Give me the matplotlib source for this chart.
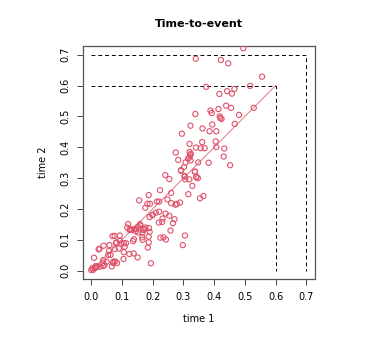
import numpy as np
import matplotlib
matplotlib.use("Agg")
import matplotlib.pyplot as plt

# event times
time1 = [0.495, 0.340, 0.422, 0.446, 0.556, 0.517, 0.374, 0.442, 0.466, 0.458,
         0.417, 0.529, 0.439, 0.455, 0.414, 0.388, 0.392, 0.339, 0.481, 0.418,
         0.420, 0.424, 0.323, 0.467, 0.394, 0.362, 0.385, 0.407, 0.295, 0.405,
         0.361, 0.320, 0.341, 0.356, 0.369, 0.407, 0.433, 0.275, 0.320, 0.324,
         0.322, 0.319, 0.315, 0.283, 0.323, 0.431, 0.307, 0.348, 0.382, 0.452,
         0.302, 0.292, 0.338, 0.304, 0.342,
         0.241, 0.254, 0.304, 0.292, 0.337, 0.306, 0.319, 0.342, 0.347, 0.329,
         0.316, 0.365, 0.354, 0.260, 0.224, 0.187, 0.156, 0.183, 0.191, 0.176,
         0.214, 0.221, 0.248, 0.260, 0.274, 0.279, 0.289, 0.210, 0.199, 0.221,
         0.242, 0.254, 0.232, 0.231, 0.220, 0.190, 0.271, 0.266, 0.258, 0.225,
         0.235, 0.243, 0.305, 0.298, 0.194, 0.184, 0.187, 0.187, 0.190, 0.188,
         0.167, 0.167, 0.166, 0.152, 0.159, 0.145, 0.139, 0.132, 0.127, 0.120,
         0.117, 0.153, 0.173, 0.176, 0.139, 0.136, 0.113, 0.106, 0.093, 0.082,
         0.069, 0.076, 0.093, 0.040, 0.059, 0.106, 0.124, 0.138, 0.151, 0.105,
         0.090, 0.076, 0.058, 0.063, 0.055, 0.027, 0.024, 0.039, 0.050, 0.078,
         0.071, 0.067, 0.009, 0.037, 0.043, 0.039, 0.028, 0.015, 0.011, 0.003,
         0.000, 0.006, 0.013, 0.019, 0.084, 0.109, 0.072, 0.080, 0.098, 0.125,
         0.145, 0.160, 0.170, 0.200]
time2 = [0.721, 0.687, 0.683, 0.672, 0.629, 0.599, 0.596, 0.582, 0.589, 0.574,
         0.573, 0.528, 0.535, 0.528, 0.524, 0.519, 0.511, 0.508, 0.505, 0.500,
         0.495, 0.492, 0.470, 0.476, 0.474, 0.461, 0.452, 0.452, 0.444, 0.419,
         0.417, 0.411, 0.399, 0.397, 0.397, 0.401, 0.396, 0.383, 0.385, 0.379,
         0.374, 0.367, 0.363, 0.359, 0.357, 0.370, 0.351, 0.351, 0.350, 0.342,
         0.336, 0.324, 0.321, 0.307, 0.303,
         0.310, 0.297, 0.305, 0.326, 0.321, 0.296, 0.296, 0.305, 0.300, 0.275,
         0.248, 0.242, 0.235, 0.252, 0.261, 0.245, 0.228, 0.217, 0.217, 0.204,
         0.224, 0.224, 0.231, 0.219, 0.214, 0.216, 0.221, 0.188, 0.180, 0.191,
         0.185, 0.178, 0.169, 0.158, 0.156, 0.174, 0.167, 0.154, 0.130, 0.107,
         0.108, 0.101, 0.114, 0.083, 0.024, 0.075, 0.092, 0.110, 0.126, 0.138,
         0.124, 0.100, 0.108, 0.143, 0.151, 0.135, 0.135, 0.132, 0.134, 0.151,
         0.140, 0.124, 0.135, 0.140, 0.102, 0.096, 0.089, 0.089, 0.097, 0.092,
         0.112, 0.113, 0.114, 0.081, 0.083, 0.060, 0.054, 0.056, 0.043, 0.038,
         0.072, 0.070, 0.064, 0.051, 0.051, 0.071, 0.069, 0.034, 0.029, 0.030,
         0.025, 0.014, 0.042, 0.024, 0.018, 0.015, 0.013, 0.015, 0.010, 0.008,
         0.002, 0.003, 0.009, 0.013, 0.025, 0.078, 0.029, 0.090, 0.088, 0.132,
         0.128, 0.146, 0.132, 0.181]

col = "#DF536B"

fig = plt.figure(figsize=(3.74, 3.39), dpi=100)
ax = fig.add_axes([0.221, 0.176, 0.621, 0.688])

ax.scatter(time1, time2, s=14, facecolors="none", edgecolors=col, linewidths=0.8, zorder=3)
ax.plot([0, 0.6], [0, 0.6], color=col, lw=0.7, alpha=0.8)

for t in (0.6, 0.7):
    ax.plot([0, t, t], [t, t, 0], color="black", ls=(0, (4, 3)), lw=0.7)

ax.set_xlim(-0.028, 0.728)
ax.set_ylim(-0.028, 0.728)
ticks = np.round(np.arange(0, 0.71, 0.1), 1)
ax.set_xticks(ticks)
ax.set_yticks(ticks)
ax.set_xticklabels([f"{t:.1f}" for t in ticks])
ax.set_yticklabels([f"{t:.1f}" for t in ticks], rotation=90, va="center")
ax.tick_params(labelsize=7, length=4, width=0.7, color="#444444", pad=5)

for s in ax.spines.values():
    s.set_color("#555555")
    s.set_linewidth(0.9)

ax.set_xlabel("time 1", fontsize=7, labelpad=9)
ax.set_ylabel("time 2", fontsize=7, labelpad=9)
ax.set_title("Time-to-event", fontsize=8, fontweight="bold", pad=14)

fig.savefig("out.png", dpi=100)
